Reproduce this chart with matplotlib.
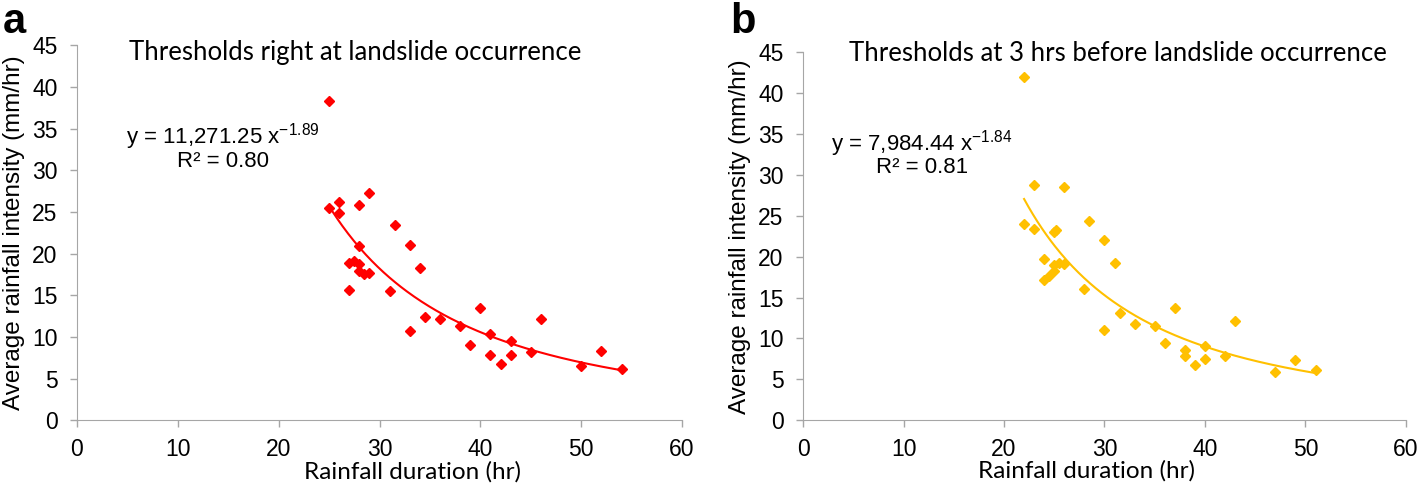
import matplotlib.pyplot as plt
import numpy as np

plt.rcParams['font.family'] = 'Liberation Sans'
plt.rcParams['mathtext.fontset'] = 'custom'
plt.rcParams['mathtext.rm'] = 'Liberation Sans'

# panel a: thresholds right at landslide occurrence
dur_a = [25, 25, 26, 26, 28, 29, 31.5, 33, 34, 28, 27, 27.5, 28, 28, 28.5, 29,
         27, 31, 33, 34.5, 36, 38, 40, 39, 41, 41, 42, 43, 43, 45, 46, 50, 52, 54]
int_a = [38.3, 25.5, 26.2, 24.9, 25.8, 27.3, 23.4, 21.0, 18.3, 20.9, 18.9, 19.1, 18.8, 17.9, 17.6, 17.7,
         15.6, 15.5, 10.7, 12.4, 12.2, 11.3, 13.5, 9.0, 10.3, 7.8, 6.8, 9.5, 7.8, 8.2, 12.1, 6.5, 8.3, 6.2]
coef_a, exp_a, r2_a = 11271.25, -1.89, 0.80

# panel b: thresholds 3 hrs before landslide occurrence
dur_b = [22, 23, 26, 22, 23, 25, 25.2, 28.5, 30, 31, 24, 25, 25.5, 26, 25, 24.5, 24,
         28, 30, 31.5, 33, 35, 37, 36, 38, 38, 39, 40, 40, 42, 43, 47, 49, 51]
int_b = [42.0, 28.8, 28.5, 24.0, 23.4, 23.0, 23.2, 24.3, 22.0, 19.2, 19.7, 19.0, 19.2, 19.1, 18.3, 17.6, 17.2,
         16.1, 11.0, 13.1, 11.8, 11.5, 13.7, 9.4, 8.6, 7.9, 6.8, 9.1, 7.5, 7.9, 12.1, 5.9, 7.4, 6.1]
coef_b, exp_b, r2_b = 7984.44, -1.84, 0.81

fig = plt.figure(figsize=(14.18, 4.88), dpi=100)
ax1 = fig.add_axes([0.0543, 0.139, 0.4267, 0.768])
ax2 = fig.add_axes([0.5663, 0.139, 0.4252, 0.754])

panels = [
    (ax1, dur_a, int_a, coef_a, exp_a, r2_a, '#ff0000', 'Thresholds right at landslide occurrence',
     (14.5, 34.0), 27.6, 44.1, 0.554),
    (ax2, dur_b, int_b, coef_b, exp_b, r2_b, '#ffc000', 'Thresholds at 3 hrs before landslide occurrence',
     (11.8, 33.8), 31.3, 44.9, 0.471),
]

for ax, x, y, c, e, r2, col, title, eqpos, tx, ty, xlx in panels:
    ax.plot(x, y, 'D', color=col, markersize=5.5, zorder=3)
    xf = np.linspace(min(x), max(x), 200)
    ax.plot(xf, c * xf ** e, color=col, lw=1.5)
    ax.set_xlim(0, 60)
    ax.set_ylim(0, 45)
    ax.set_xticks(range(0, 61, 10))
    ax.set_yticks(range(0, 46, 5))
    for s in ['top', 'right']:
        ax.spines[s].set_visible(False)
    for s in ['left', 'bottom']:
        ax.spines[s].set_color('#a6a6a6')
    ax.tick_params(colors='#a6a6a6', labelcolor='black', labelsize=16.5, length=5, width=1)
    ax.tick_params(axis='y', pad=9)
    ax.tick_params(axis='x', pad=8)
    ax.set_xlabel('Rainfall duration (hr)', fontsize=17.5, family='Lato')
    ax.xaxis.set_label_coords(xlx, -0.108)
    ax.set_ylabel('Average rainfall intensity (mm/hr)', fontsize=17.5)
    ax.yaxis.set_label_coords(-0.086, 0.5)
    ax.text(tx, ty, title, ha='center', va='center', fontsize=18.5, family='Lato', clip_on=False)
    ax.text(eqpos[0], eqpos[1], f'y = {c:,.2f} x$^{{{e}}}$', ha='center', va='center', fontsize=16)
    ax.text(eqpos[0], eqpos[1] - 2.9, f'R² = {r2:.2f}', ha='center', va='center', fontsize=16)

fig.text(0.002, 0.995, 'a', fontsize=30, fontweight='bold', va='top', ha='left')
fig.text(0.515, 0.995, 'b', fontsize=30, fontweight='bold', va='top', ha='left')

fig.savefig('out.png', dpi=100)
